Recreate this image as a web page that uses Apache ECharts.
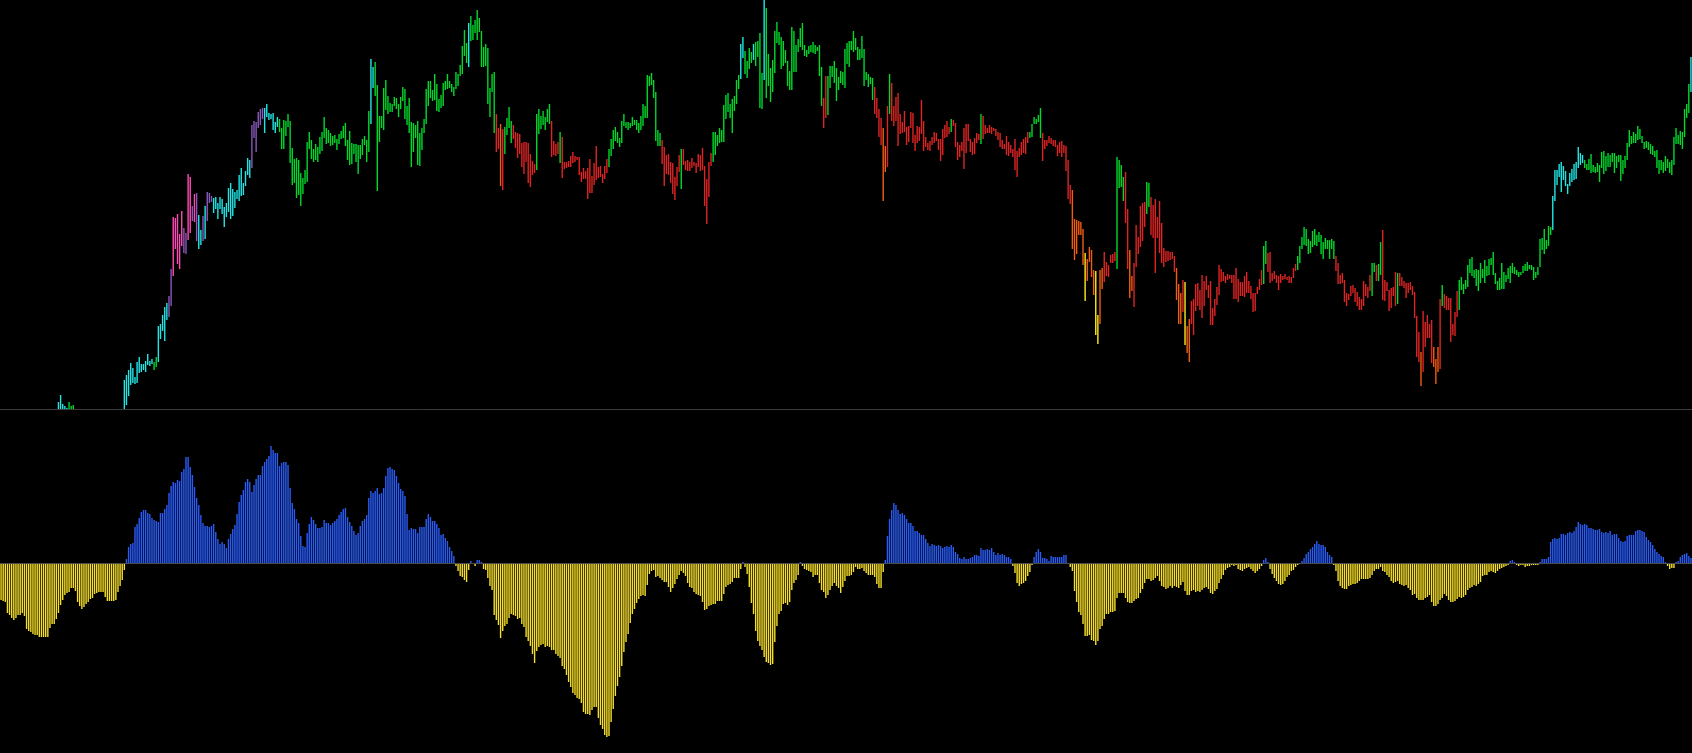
<!DOCTYPE html>
<html>
<head>
<meta charset="utf-8">
<script src="https://cdn.jsdelivr.net/npm/echarts@6/dist/echarts.min.js"></script>
<style>
html, body { margin: 0; padding: 0; background: #000; }
#chart { width: 1692px; height: 753px; }
</style>
</head>
<body>
<div id="chart"></div>
<script>
// price bars [low, high], null = below the visible range
const priceBars = [
  null,null,null,null,null,null,null,null,null,null,null,null,null,null,null,null,null,null,null,null,null,null,null,null,null,null,null,
  [-12,7],[-12,14],[-12,5],[-12,3],[-12,1],[-12,7],[-12,3],[-12,4],
  null,null,null,null,null,null,null,null,null,null,null,null,null,null,null,null,null,null,null,null,null,null,null,
  [-8,29],[4,34],[13,39],[24,46],[26,41],[25,32],[26,47],[36,52],[37,45],[39,45],
  [37,48],[44,55],[43,48],[45,50],[39,47],[42,52],[47,83],[70,85],[78,94],[68,102],
  [89,106],[92,113],[103,140],[133,192],[160,191],[145,195],[140,175],[163,198],[156,181],[155,176],
  [169,235],[176,232],[188,203],[187,215],[168,216],[160,194],[164,179],[168,193],[170,203],[188,217],
  [206,216],[207,213],[196,211],[200,212],[190,206],[200,212],[195,210],[182,202],[192,206],[197,221],
  [190,226],[193,220],[201,217],[210,219],[208,234],[213,241],[214,226],[223,238],[234,251],[231,249],
  [241,284],[271,288],[257,287],[281,297],[284,300],[290,301],[276,301],[292,305],[289,296],[290,295],
  [279,296],[276,287],[282,292],[277,290],[260,281],
  // 133
  [260,289],[273,288],[282,295],[246,288],[224,261],[226,250],[211,251],[214,249],[203,236],[215,231],
  [225,239],[227,267],[260,277],[250,269],[247,260],[249,265],[247,262],[255,272],[258,277],[271,292],
  [265,281],[266,279],[263,276],[264,273],[266,274],[259,270],[265,275],[270,278],[271,283],[263,286],
  [249,269],[244,278],[245,266],[255,265],[247,265],[235,264],[250,264],[254,270],[264,273],[247,269],
  [257,298],[285,350],[321,342],[313,347],[218,324],[267,293],[281,293],[279,321],[299,329],[295,313],
  [297,306],[297,305],[303,312],[300,311],[292,305],[300,312],[308,322],[290,320],[284,303],[276,311],
  [242,287],[257,286],[271,284],[244,288],[243,276],[259,281],[276,290],[285,320],[303,328],[311,328],
  [308,319],[309,335],[298,325],[297,310],[301,314],[303,326],[319,328],[320,335],[321,328],[317,325],
  [313,322],[320,337],[323,335],[333,344],[335,363],[353,379],[346,366],[342,386],[368,393],[369,384],
  [376,389],[369,399],[377,391],[342,378],[342,362],[343,365],[305,361],[292,321],[317,335],[276,337],
  [257,295],[260,281],[223,285],[219,280],[255,282],[274,291],[281,302],[266,288],[270,284],[261,277],
  [251,276],[255,275],[242,266],[235,267],[247,267],[226,266],[222,255],[234,248],[236,245],[239,295],
  [275,300],[280,293],[284,298],[279,292],[287,300],[285,305],[252,288],[254,268],[253,265],[255,267],
  [246,277],[231,272],
  // 265
  [240,247],[241,247],[242,248],[242,253],[246,257],[247,253],[249,252],[234,252],[227,237],[230,241],
  [230,238],[210,241],[216,250],[216,233],[224,246],[229,263],[231,242],[232,243],[226,235],[230,243],
  [236,250],[242,260],[253,270],[260,279],[268,282],[266,277],[262,271],[266,288],[283,295],[281,287],
  [279,287],[281,286],[283,292],[284,289],[279,289],[276,286],[279,293],[283,305],[291,303],[291,334],
  [323,333],[324,336],[311,329],[268,317],[263,279],[263,276],[245,269],[223,262],[235,254],[234,255],
  [226,247],[215,246],[209,232],[223,242],[237,254],[220,260],[244,260],[239,248],[238,249],[238,247],
  [241,251],[243,247],[236,246],[242,255],[238,254],[239,261],[203,243],[185,230],[212,247],[243,256],
  [247,277],[254,277],[263,274],[266,281],[267,279],[267,304],[290,314],[297,316],[291,305],[276,310],
  [298,313],[305,329],[320,334],[330,365],[351,372],[335,358],[331,348],[340,361],[346,357],[349,365],
  [343,367],[352,368],[301,376],[300,336],[329,409],[311,401],[323,355],[307,341],[317,349],[336,378],
  [366,387],[364,377],[340,372],[343,368],[346,359],[323,348],[319,338],[319,382],[337,378],[337,364],
  [357,370],[362,381],[359,386],[353,364],[352,359],[355,363],[357,364],[356,367],[355,364],[358,362],
  [333,364],[303,342],[281,311],[291,333],[294,333],[321,343],[332,343],[326,348],[308,341],[319,332],
  [326,338],[324,337],[321,360],
  // 398
  [345,366],[342,368],[359,368],[357,378],[359,371],[349,362],[349,360],[351,373],[323,360],[329,337],
  [322,335],[325,332],[309,331],[295,322],[291,311],[272,300],[264,291],[208,281],[237,263],[242,303],
  [295,335],[288,326],[283,303],[288,312],[263,316],[275,295],[276,287],[277,298],[264,282],[267,283],
  [281,297],[266,296],[258,274],[266,283],[268,282],[275,309],[258,288],[262,272],[259,266],[258,268],
  [264,272],[266,277],[268,276],[259,270],[248,270],[254,280],[271,284],[272,288],[275,282],[277,290],
  [283,289],[262,286],[249,267],[252,264],[258,267],[240,281],[256,285],[268,285],[257,270],[254,267],
  [255,271],[266,276],[269,275],[265,295],[270,293],[275,284],[276,281],[276,284],[275,282],[278,281],
  [273,280],[269,277],[262,276],[260,269],[260,265],[254,273],[253,267],[256,264],[252,260],[239,270],
  [232,258],[252,261],[254,267],[256,270],[255,272],[266,277],[271,277],[272,285],[285,292],[285,290],
  [287,294],[271,301],[248,276],[260,269],[263,269],[266,273],[265,271],[263,269],[262,269],[253,264],
  [256,267],[252,268],[256,264],[238,263],[210,249],[205,224],[160,219],[149,190],[155,189],[174,188],
  [174,187],[144,180],[108,156],[128,150],[147,162],[132,159],[114,139],[74,138],[65,94],[85,139],
  [120,141],[127,157],[133,147],[132,144],[146,154],[146,155],[148,157],[140,252],[221,249],[222,244],
  [208,232],[186,237],[140,200],
  // 531
  [111,159],[118,133],[102,146],[142,184],[155,172],[162,203],[168,206],[182,207],[195,227],[202,226],
  [174,212],[171,204],[136,210],[171,192],[156,208],[146,186],[142,161],[147,158],[148,158],[149,157],
  [150,157],[137,153],[109,141],[85,125],[85,116],[97,129],[64,127],[56,83],[47,90],[85,108],
  [74,110],[98,125],[103,126],[99,119],[91,134],[103,128],[119,133],[111,124],[84,128],[84,101],
  [93,110],[104,122],[114,144],[127,140],[128,137],[126,133],[129,135],[130,134],[126,134],[110,134],
  [110,141],[107,130],[113,127],[113,127],[112,133],[116,137],[116,128],[110,123],[97,116],[98,116],
  [115,122],[119,130],[124,139],[125,163],[145,168],[137,156],[126,157],[128,136],[130,138],[126,134],
  [119,133],[126,135],[129,133],[130,135],[129,132],[126,133],[126,132],[131,141],[138,145],[139,153],
  [146,163],[160,172],[164,182],[163,180],[155,170],[156,168],[162,178],[164,180],[163,174],[167,177],
  [155,174],[150,167],[160,171],[160,169],[150,169],[160,170],[150,168],[138,153],[125,146],[125,134],
  [126,136],[107,129],[103,116],[109,115],[113,123],[116,124],[107,121],[103,117],[99,112],[99,110],
  [103,128],[113,125],[111,122],[118,134],[113,146],[137,146],[128,144],[128,145],[134,167],[109,179],
  [108,129],[118,127],[98,119],[101,121],[113,122],[103,137],[105,136],[123,136],[123,132],[121,128],
  [111,126],[116,126],
  // 663
  [119,127],[114,123],[91,117],[52,93],[47,77],[23,57],[37,98],[62,87],[71,94],[71,85],
  [46,89],[42,62],[25,50],[37,62],[40,110],[103,124],[101,115],[99,113],[99,111],[67,111],
  [74,85],[73,97],[92,118],[99,129],[119,132],[115,125],[120,129],[122,144],[136,150],[133,152],
  [131,139],[123,140],[118,139],[126,146],[131,140],[126,149],[133,143],[134,150],[144,151],[134,157],
  [125,136],[119,128],[119,131],[120,146],[120,137],[127,134],[130,141],[126,143],[136,146],[135,142],
  [134,139],[132,137],[134,137],[136,143],[138,145],[138,147],[140,144],[139,144],[129,142],[131,137],
  [134,142],[142,170],[159,171],[155,180],[160,169],[163,183],[174,182],[179,213],[208,239],[224,239],
  [232,245],[217,247],[229,243],[223,238],[215,225],[223,236],[227,240],[229,245],[230,247],[241,262],
  [244,256],[246,254],[241,249],[239,245],[239,250],[236,255],[237,244],[236,242],[237,246],[227,244],
  [241,257],[235,258],[238,253],[242,256],[242,254],[247,256],[236,256],[241,253],[247,254],[228,254],
  [235,249],[241,253],[249,266],[262,279],[265,273],[266,277],[266,275],[269,283],[270,280],[266,273],
  [260,267],[261,268],[259,267],[255,265],[254,263],[252,258],[241,259],[235,249],[239,249],[236,247],
  [238,253],[241,250],[236,247],[234,249],[244,272],[265,281],[265,274],[264,278],[260,277],[272,300],
  [291,305],[296,325],[317,352]
];

// trend state per bar as runs: c cyan, g green, r red, o orange, y yellow, p purple, k pink, - none
const trendRuns = [
  ['-',27],['c',5],['g',3],['-',23],['c',14],['g',2],['c',5],['p',2],['k',5],['p',2],['k',2],['p',1],['k',1],['p',1],
  ['c',2],['p',1],['c',1],['p',3],['c',18],['p',6],['c',7],['g',2],
  ['g',41],['c',2],['g',44],['c',1],['g',12],['r',2],['o',1],['r',1],['g',4],['r',11],['g',7],['r',4],['g',1],['r',1],
  ['r',21],['g',25],['r',9],['g',1],['r',14],['g',13],['c',2],['g',4],['c',1],['g',4],['c',1],['g',27],['r',2],['g',9],
  ['g',13],['r',4],['o',2],['r',1],['g',1],['r',28],['g',1],['r',13],['g',1],['r',22],['g',6],['r',14],['o',6],['y',1],
  ['o',4],['y',2],['o',2],['r',6],['g',4],['r',2],
  ['o',2],['r',6],['g',2],['r',12],['o',3],['r',1],['y',1],['o',2],['r',34],['g',2],['r',14],['g',18],['r',17],['g',2],
  ['r',1],['g',2],['r',7],['g',1],['r',5],
  ['r',5],['o',1],['r',5],['o',3],['r',1],['g',1],['r',7],['g',44],['c',15],['g',50],['c',1]
];

// oscillator histogram
const histogram = [
  -37,-38,-39,-50,-52,-55,-57,-55,-52,-52,-50,-53,-66,-68,-69,-71,-72,-72,-74,-74,
  -74,-74,-74,-65,-61,-61,-56,-50,-42,-37,-32,-30,-29,-25,-25,-28,-39,-43,-46,-44,
  -41,-39,-36,-35,-31,-30,-29,-29,-29,-34,-38,-38,-38,-38,-37,-29,-23,-17,-7,
  4,16,19,20,36,39,45,51,53,53,50,49,45,43,42,41,50,50,54,58,
  70,77,81,80,83,82,91,94,106,106,96,88,76,65,58,48,40,37,37,36,
  37,39,31,24,19,21,19,15,24,29,34,38,49,61,68,73,81,84,81,71,
  78,84,88,88,97,101,104,107,117,113,110,110,97,100,
  // 133
  101,101,98,75,60,54,44,40,27,17,16,30,39,46,43,39,35,35,36,43,
  40,40,38,40,42,44,48,51,54,55,46,41,37,32,28,30,37,42,44,48,
  65,72,70,72,75,69,70,75,87,95,96,94,93,87,80,74,72,67,49,33,
  35,34,34,30,36,36,36,44,49,46,42,42,39,35,28,29,25,22,16,12,
  7,-3,-8,-13,-14,-17,-19,-7,2,0,-3,3,3,1,-6,-7,-15,-23,-27,-52,
  -57,-62,-75,-68,-63,-61,-55,-51,-52,-53,-56,-55,-61,-64,-74,-78,-83,-91,-100,-88,
  -84,-82,-81,-84,-83,-84,-87,-87,-91,-93,-95,-103,
  // 265
  -106,-112,-119,-124,-130,-132,-135,-136,-140,-149,-151,-151,-152,-147,-144,-144,-155,-162,-166,-172,
  -174,-173,-159,-146,-133,-123,-114,-103,-89,-79,-71,-60,-51,-46,-40,-36,-33,-32,-33,-22,
  -11,-8,-7,-14,-13,-15,-17,-19,-19,-24,-29,-25,-21,-16,-12,-8,-10,-13,-20,-24,
  -25,-29,-31,-32,-33,-39,-47,-46,-43,-42,-41,-41,-38,-38,-38,-31,-24,-22,-21,-19,
  -15,-15,-15,-6,1,-4,-11,-24,-40,-51,-68,-78,-83,-87,-94,-99,-100,-102,-101,-79,
  -63,-51,-48,-41,-40,-42,-39,-27,-20,-17,-12,1,-3,-6,-7,-8,-9,-14,-12,-12,
  -20,-27,-29,-35,-32,-27,-23,-20,-23,-25,-30,-24,-18,
  // 398
  -13,-13,-12,-9,-4,-6,-6,-5,-8,-10,-12,-12,-12,-14,-21,-25,-25,-9,3,27,
  44,53,60,58,53,49,50,48,44,40,40,37,32,32,30,28,28,24,20,17,
  19,18,17,18,17,15,16,17,16,18,16,11,9,5,4,6,4,4,5,6,
  8,8,7,15,13,13,14,13,15,11,8,10,8,9,8,6,6,4,-3,-10,
  -20,-23,-21,-20,-18,-13,-9,-2,6,11,14,11,5,5,4,2,7,6,6,6,
  6,6,8,8,0,-4,-8,-28,-39,-49,-52,-61,-73,-73,-72,-77,-78,-82,-78,-66,
  -63,-56,-51,-51,-49,-49,-48,-35,-30,-30,-30,-35,-39,
  // 531
  -40,-40,-38,-36,-35,-30,-26,-20,-16,-16,-18,-17,-15,-13,-18,-23,-24,-26,-25,-23,
  -25,-23,-24,-25,-22,-19,-28,-32,-32,-28,-27,-29,-28,-29,-27,-25,-24,-26,-30,-31,
  -28,-26,-20,-16,-12,-7,-5,-4,-2,-3,-2,-6,-7,-8,-6,-5,-4,-6,-8,-10,
  -8,-6,-3,3,5,1,-6,-11,-15,-18,-21,-22,-21,-18,-14,-12,-8,-7,-4,-2,
  -1,2,5,9,11,14,16,19,22,19,18,18,16,11,8,6,-2,-8,-18,-23,
  -25,-26,-26,-23,-22,-21,-21,-20,-18,-16,-16,-16,-16,-15,-12,-8,-6,-6,-4,-8,
  -9,-12,-14,-18,-20,-19,-18,-21,-22,-23,-22,-25,
  // 663
  -27,-32,-31,-35,-37,-37,-37,-35,-34,-32,-39,-43,-43,-41,-37,-35,-31,-33,-37,-39,
  -39,-38,-36,-34,-35,-34,-32,-27,-25,-24,-22,-23,-21,-19,-13,-12,-12,-9,-8,-9,
  -10,-8,-6,-5,-4,-3,-2,2,3,1,-2,-3,-2,-2,-4,-3,-3,-2,-2,-2,
  -2,1,4,4,4,6,21,24,25,24,25,29,29,28,30,31,30,32,36,41,
  39,38,39,38,35,35,34,33,33,34,31,30,31,30,32,28,29,29,25,22,
  21,22,27,28,28,28,32,33,33,32,31,26,23,21,18,14,11,9,7,6,
  1,-3,-6,-5,-5,1,2,6,8,9,10,7,5
];

const trendColors = {
  c: '#22e6e6', g: '#00d82c', r: '#de2424', o: '#f25e10',
  y: '#ffea1c', p: '#8a58bc', k: '#ff4ab4'
};
const trend = [];
trendRuns.forEach(([code, n]) => {
  for (let k = 0; k < n; k++) trend.push(code);
});
const categories = priceBars.map((_, i) => i);
const barData = [];
priceBars.forEach((b, i) => {
  if (b) barData.push([i, b[0], b[1]]);
});
const histData = histogram.map((v, i) => [i, v]);

const BAR_W = 1.4;
// thin vertical stroke centred on the category
function thinBar(params, x, yA, yB, fill) {
  const shape = echarts.graphic.clipRectByRect({
    x: x - BAR_W / 2,
    y: Math.min(yA, yB),
    width: BAR_W,
    height: Math.max(Math.abs(yA - yB), 1)
  }, params.coordSys);
  if (!shape) return null;
  return { type: 'rect', shape: shape, style: { fill: fill } };
}

const chart = echarts.init(document.getElementById('chart'));
chart.setOption({
  backgroundColor: '#000',
  animation: false,
  grid: [
    { left: 0, right: 0, top: 0, height: 409 },
    { left: 0, right: 0, top: 410, bottom: 0 }
  ],
  xAxis: [
    {
      type: 'category', data: categories, gridIndex: 0,
      axisLine: { show: true, onZero: false, lineStyle: { color: '#3c3c3c', width: 1 } },
      axisTick: { show: false }, axisLabel: { show: false }, splitLine: { show: false }
    },
    { type: 'category', data: categories, gridIndex: 1, show: false }
  ],
  yAxis: [
    { gridIndex: 0, min: 0, max: 409, show: false, splitLine: { show: false } },
    { gridIndex: 1, min: -190, max: 153, show: false, splitLine: { show: false } }
  ],
  series: [
    {
      type: 'custom',
      xAxisIndex: 0,
      yAxisIndex: 0,
      data: barData,
      encode: { x: 0, y: [1, 2] },
      renderItem: function (params, api) {
        const i = api.value(0);
        const lo = api.coord([i, api.value(1)]);
        const hi = api.coord([i, api.value(2)]);
        return thinBar(params, lo[0], lo[1], hi[1], trendColors[trend[i]]);
      }
    },
    {
      type: 'custom',
      xAxisIndex: 1,
      yAxisIndex: 1,
      data: histData,
      encode: { x: 0, y: 1 },
      renderItem: function (params, api) {
        const i = api.value(0);
        const v = api.value(1);
        const base = api.coord([i, 0]);
        const end = api.coord([i, v]);
        return thinBar(params, base[0], base[1], end[1], v >= 0 ? '#2a5cf8' : '#f8e02a');
      },
      markLine: {
        silent: true,
        symbol: 'none',
        label: { show: false },
        lineStyle: { color: '#4a4a4a', type: 'solid', width: 1 },
        data: [{ yAxis: 0 }]
      }
    }
  ]
});
</script>
</body>
</html>
